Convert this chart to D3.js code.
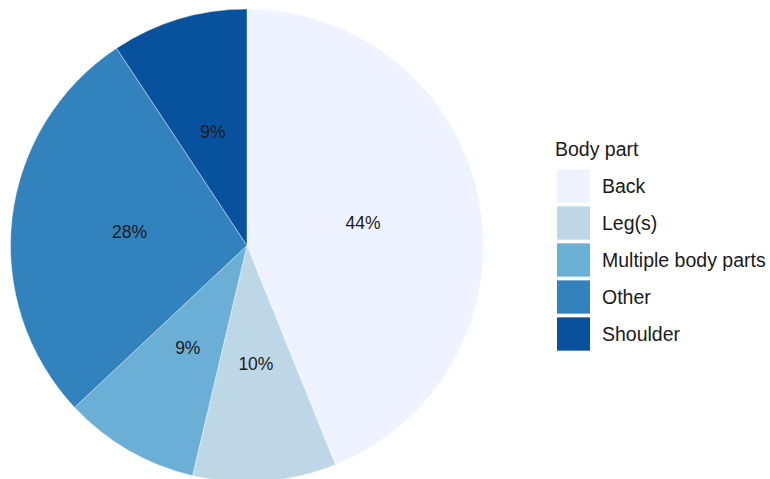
<!DOCTYPE html>
<html><head><meta charset="utf-8">
<script src="https://cdn.jsdelivr.net/npm/d3@7"></script>
<style>body{margin:0;background:#fff;} text{font-family:"Liberation Sans",Arial,sans-serif;}</style>
</head><body>
<svg id="c" width="770" height="479"></svg>
<script>
const categories = ["Back", "Leg(s)", "Multiple body parts", "Other", "Shoulder"];
const values = [43.9, 9.8, 9.3, 27.7, 9.3];
const colors = ["#eff3ff", "#bdd7e7", "#6baed6", "#3182bd", "#08519c"];
const legendTitle = "Body part";

const svg = d3.select("#c");
const cx = 247, cy = 245.5, R = 236.5;
const data = categories.map((c, i) => ({cat: c, value: values[i], color: colors[i]}));
const pie = d3.pie().value(d => d.value).sort(null);
const arc = d3.arc().innerRadius(0).outerRadius(R);
const arcs = pie(data);
const total = d3.sum(values);
const g = svg.append("g").attr("transform", `translate(${cx},${cy})`);
g.selectAll("path").data(arcs).join("path")
  .attr("d", arc).attr("fill", d => d.data.color)
  .attr("stroke", "#fff").attr("stroke-width", 0.4);
g.selectAll("text").data(arcs).join("text")
  .attr("transform", d => `translate(${arc.centroid(d)})`)
  .attr("text-anchor", "middle").attr("dy", "0.35em")
  .attr("font-size", 17.5).attr("fill", "#1a1a1a")
  .text(d => Math.round(d.data.value / total * 100) + "%");

const lg = svg.append("g").attr("transform", "translate(555,0)");
lg.append("text").attr("x", 0).attr("y", 156).attr("font-size", 19.5).attr("fill", "#1a1a1a").text(legendTitle);
const y = d3.scaleBand().domain(categories).range([167.5, 352.5]).paddingInner(0.1).paddingOuter(0.05);
lg.selectAll("rect").data(data).join("rect")
  .attr("x", 2).attr("y", d => y(d.cat)).attr("width", 33).attr("height", y.bandwidth())
  .attr("fill", d => d.color);
lg.selectAll("text.l").data(data).join("text").attr("class", "l")
  .attr("x", 47).attr("y", d => y(d.cat) + y.bandwidth() / 2 + 7)
  .attr("font-size", 19.5).attr("fill", "#1a1a1a").text(d => d.cat);
</script>
</body></html>
